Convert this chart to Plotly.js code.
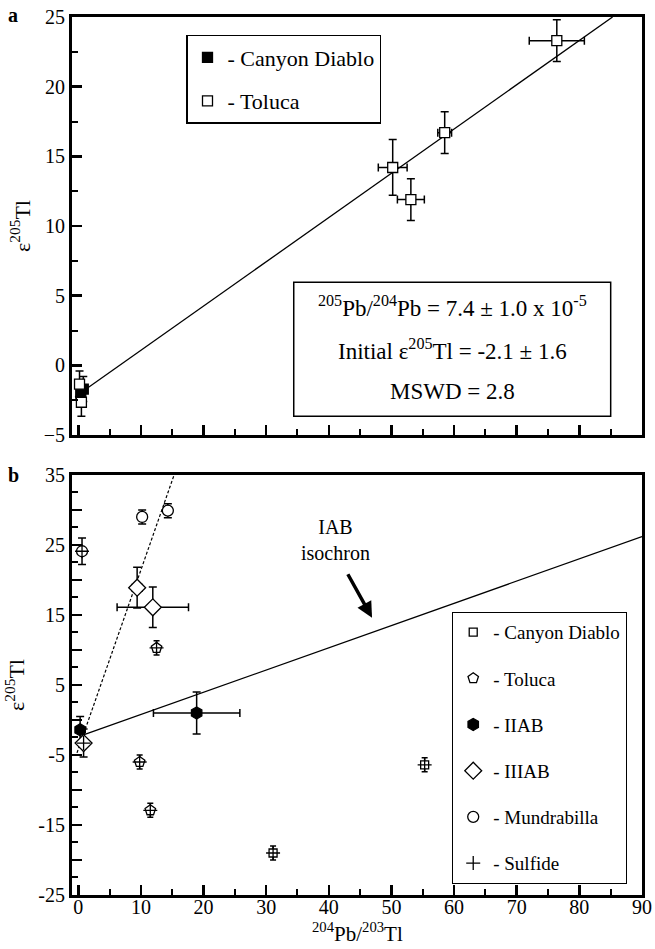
<!DOCTYPE html>
<html>
<head>
<meta charset="utf-8">
<script src="https://cdn.plot.ly/plotly-3.0.1.min.js"></script>
<style>html,body{margin:0;padding:0;background:#fff;}</style>
</head>
<body>
<div id="chart" style="width:655px;height:949px;"></div>
<script>
// ---------- Panel a data ----------
const aCanyonX  = [0.4, 0.8];
const aCanyonY  = [-2.0, -1.7];
const aCanyonEY = [0.8, 0.9];

const aTolucaX  = [0.2, 0.5, 50.2, 53.1, 58.5, 76.4];
const aTolucaY  = [-1.35, -2.65, 14.2, 11.9, 16.7, 23.3];
const aTolucaEX = [0.3, 0.3, 2.3, 2.15, 1.1, 4.4];
const aTolucaEY = [0.95, 1.0, 2.0, 1.5, 1.5, 1.5];

const aLineX = [-0.5, 85.3];
const aLineY = [-2.26, 25.0];

// ---------- Panel b data ----------
const bCanyonX  = [31.1, 55.3];
const bCanyonY  = [-19.0, -6.4];
const bCanyonEY = [1.0, 1.0];

const bTolucaX  = [9.8, 11.5, 12.5];
const bTolucaY  = [-6.0, -12.9, 10.3];
const bTolucaEY = [1.0, 1.0, 1.0];

const bIIABX  = [0.3, 18.9];
const bIIABY  = [-1.4, 1.0];
const bIIABEX = [0, 6.9];
const bIIABEY = [1.9, 3.0];

const bIIIABX  = [0.85, 9.4, 11.9];
const bIIIABY  = [-3.3, 18.9, 16.1];
const bIIIABEX = [0, 0.8, 5.7];
const bIIIABEY = [2.0, 2.9, 2.9];

const bMundX  = [0.6, 10.2, 14.3];
const bMundY  = [24.1, 29.0, 29.9];
const bMundEY = [1.9, 1.0, 1.0];

const bSulfideX = [0.6, 0.85, 9.8, 11.5, 12.5, 31.1, 55.3];
const bSulfideY = [24.1, -3.3, -6.0, -12.9, 10.3, -19.0, -6.4];

const bIsochronX = [0.6, 90];
const bIsochronY = [-2.2, 26.2];
const bDashX = [-0.2, 15.3];
const bDashY = [-4.7, 35];

// tick labels
const xTicks = [0, 10, 20, 30, 40, 50, 60, 70, 80, 90];
const aYTicks = [-5, 0, 5, 10, 15, 20, 25];
const bYTicks = [-25, -20, -15, -10, -5, 0, 5, 10, 15, 20, 25, 30, 35];
const bYTickText = ['-25', ' ', '-15', ' ', '-5', ' ', '5', ' ', '15', ' ', '25', ' ', '35'];

const FONT = 'Liberation Serif, Times New Roman, serif';
const eb = (arr, w) => ({type: 'data', array: arr, visible: true, color: '#000', thickness: 1.5, width: w || 4});
const mk = (sym, fill, size) => ({symbol: sym, size: size, color: fill, line: {color: '#000', width: 1.3}});

const traces = [
  // panel a
  {x: aLineX, y: aLineY, xaxis: 'x2', yaxis: 'y2', mode: 'lines', line: {color: '#000', width: 1.3}, showlegend: false, hoverinfo: 'skip'},
  {x: aCanyonX, y: aCanyonY, xaxis: 'x2', yaxis: 'y2', mode: 'markers', name: '- Canyon Diablo',
   error_y: eb(aCanyonEY), marker: mk('square', '#000', 10), legend: 'legend', legendgroup: 'a1'},
  {x: aTolucaX, y: aTolucaY, xaxis: 'x2', yaxis: 'y2', mode: 'markers', name: '- Toluca',
   error_x: eb(aTolucaEX), error_y: eb(aTolucaEY), marker: mk('square', '#fff', 10), legend: 'legend', legendgroup: 'a2'},
  // panel b
  {x: bIsochronX, y: bIsochronY, xaxis: 'x', yaxis: 'y', mode: 'lines', line: {color: '#000', width: 1.3}, showlegend: false, hoverinfo: 'skip'},
  {x: bDashX, y: bDashY, xaxis: 'x', yaxis: 'y', mode: 'lines', line: {color: '#000', width: 1.2, dash: '3px,2px'}, showlegend: false, hoverinfo: 'skip'},
  {x: bCanyonX, y: bCanyonY, mode: 'markers', name: '- Canyon Diablo', error_y: eb(bCanyonEY, 3),
   marker: mk('square', '#fff', 8), legend: 'legend2', legendgroup: 'b1'},
  {x: bTolucaX, y: bTolucaY, mode: 'markers', name: '- Toluca', error_y: eb(bTolucaEY, 3),
   marker: mk('pentagon', '#fff', 11), legend: 'legend2', legendgroup: 'b2'},
  {x: bIIABX, y: bIIABY, mode: 'markers', name: '- IIAB', error_x: eb(bIIABEX), error_y: eb(bIIABEY),
   marker: mk('hexagon', '#000', 12), legend: 'legend2', legendgroup: 'b3'},
  {x: bIIIABX, y: bIIIABY, mode: 'markers', name: '- IIIAB', error_x: eb(bIIIABEX), error_y: eb(bIIIABEY),
   marker: mk('diamond', '#fff', 13), legend: 'legend2', legendgroup: 'b4'},
  {x: bMundX, y: bMundY, mode: 'markers', name: '- Mundrabilla', error_y: eb(bMundEY),
   marker: mk('circle', '#fff', 11), legend: 'legend2', legendgroup: 'b5'},
  {x: bSulfideX, y: bSulfideY, mode: 'markers', name: '- Sulfide',
   marker: {symbol: 'cross-thin-open', size: 10, color: '#000', line: {color: '#000', width: 1.3}}, legend: 'legend2', legendgroup: 'b6'}
];

const axisCommon = {
  showline: true, linewidth: 3, linecolor: '#000', mirror: true,
  ticks: 'inside', ticklen: 10, tickwidth: 2.5, tickcolor: '#000',
  showgrid: false, zeroline: false,
  tickfont: {family: FONT, size: 20, color: '#000'}
};

const layout = {
  width: 655, height: 949,
  margin: {l: 72, r: 13, t: 17, b: 54, pad: 0},
  paper_bgcolor: '#fff', plot_bgcolor: '#fff',
  font: {family: FONT, color: '#000'},
  showlegend: true,
  xaxis: Object.assign({}, axisCommon, {
    domain: [0, 1], anchor: 'y', range: [-1, 90], tickvals: xTicks, ticklabelstandoff: -8,
    minor: {dtick: 5, tick0: 0, ticks: 'inside', ticklen: 6, tickwidth: 2, tickcolor: '#000', showgrid: false}
  }),
  yaxis: Object.assign({}, axisCommon, {
    domain: [0, 0.4784], anchor: 'x', range: [-25, 35], tickvals: bYTicks, ticktext: bYTickText,
    minor: {dtick: 2.5, tick0: 0, ticks: 'inside', ticklen: 6, tickwidth: 2, tickcolor: '#000', showgrid: false},
    title: {text: 'ε<sup>205</sup>Tl', font: {family: FONT, size: 22}, standoff: 8}
  }),
  xaxis2: Object.assign({}, axisCommon, {
    domain: [0, 1], anchor: 'y2', range: [-1, 90], tickvals: xTicks, showticklabels: false,
    minor: {dtick: 5, tick0: 0, ticks: 'inside', ticklen: 6, tickwidth: 2, tickcolor: '#000', showgrid: false}
  }),
  yaxis2: Object.assign({}, axisCommon, {
    domain: [0.5239, 1], anchor: 'x2', range: [-5, 25], tickvals: aYTicks,
    minor: {dtick: 2.5, tick0: 0, ticks: 'inside', ticklen: 6, tickwidth: 2, tickcolor: '#000', showgrid: false},
    title: {text: 'ε<sup>205</sup>Tl', font: {family: FONT, size: 22}, standoff: 8}
  }),
  legend: {
    x: 0.2, y: 0.9795, xanchor: 'left', yanchor: 'top',
    bordercolor: '#000', borderwidth: 1.5, bgcolor: '#fff',
    font: {family: FONT, size: 22, color: '#000'},
    tracegroupgap: 12, itemclick: false
  },
  legend2: {
    x: 0.6667, y: 0.3223, xanchor: 'left', yanchor: 'top',
    bordercolor: '#000', borderwidth: 1.2, bgcolor: '#fff',
    font: {family: FONT, size: 19, color: '#000'},
    tracegroupgap: 18.5, itemclick: false
  },
  shapes: [
    {type: 'rect', xref: 'x2', yref: 'y2', x0: 34.4, x1: 85.0, y0: -3.66, y1: 5.96,
     line: {color: '#000', width: 1.5}, fillcolor: 'rgba(0,0,0,0)'}
  ],
  annotations: [
    {xref: 'paper', yref: 'paper', x: -0.1035, y: 1.002, text: '<b>a</b>', showarrow: false,
     font: {family: FONT, size: 20}, xanchor: 'center', yanchor: 'middle'},
    {xref: 'paper', yref: 'paper', x: -0.1035, y: 0.478, text: '<b>b</b>', showarrow: false,
     font: {family: FONT, size: 20}, xanchor: 'center', yanchor: 'middle'},
    {xref: 'paper', yref: 'paper', x: 0.5, y: -0.0595, xanchor: 'center', yanchor: 'bottom', showarrow: false,
     borderpad: 0, font: {family: FONT, size: 21}, text: '<sup>204</sup>Pb/<sup>203</sup>Tl'},
    {xref: 'x2', yref: 'y2', x: 59.7, y: 4.24, showarrow: false, font: {family: FONT, size: 23},
     text: '<sup>205</sup>Pb/<sup>204</sup>Pb = 7.4 ± 1.0 x 10<sup>-5</sup>'},
    {xref: 'x2', yref: 'y2', x: 59.7, y: 1.15, showarrow: false, font: {family: FONT, size: 23},
     text: 'Initial ε<sup>205</sup>Tl = -2.1 ± 1.6'},
    {xref: 'x2', yref: 'y2', x: 59.7, y: -1.87, showarrow: false, font: {family: FONT, size: 23},
     text: 'MSWD = 2.8'},
    {xref: 'x', yref: 'y', x: 41, y: 25.7, showarrow: false, font: {family: FONT, size: 20},
     text: 'IAB<br>isochron'},
    {xref: 'x', yref: 'y', x: 46.9, y: 14.6, text: '', showarrow: true, arrowhead: 2, arrowsize: 0.9,
     arrowwidth: 3.5, arrowcolor: '#000', ax: -25, ay: -45}
  ]
};

Plotly.newPlot('chart', traces, layout, {staticPlot: true, displayModeBar: false});
</script>
</body>
</html>
